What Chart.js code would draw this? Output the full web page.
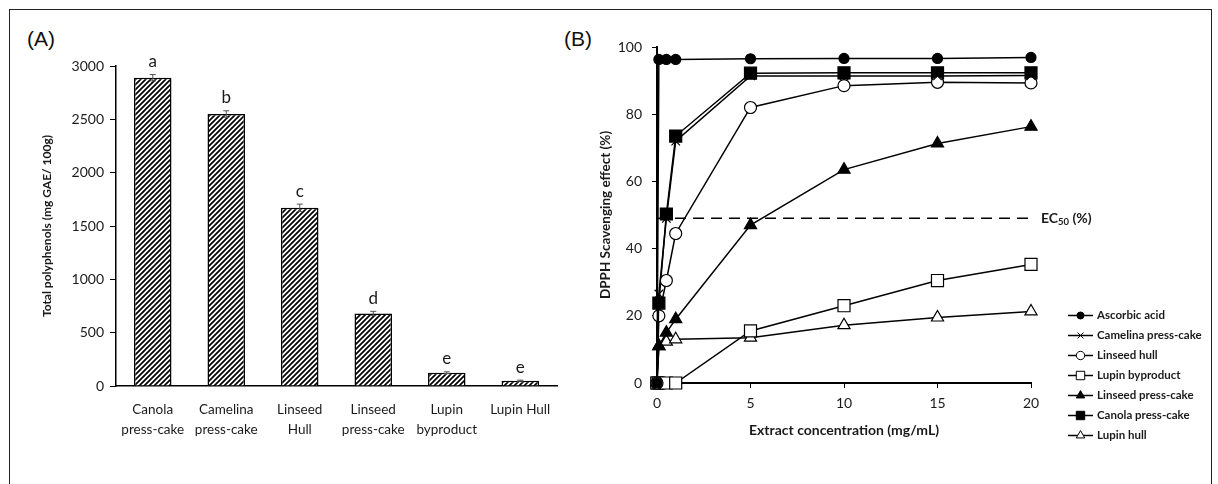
<!DOCTYPE html>
<html>
<head>
<meta charset="utf-8">
<script src="https://cdn.jsdelivr.net/npm/chart.js@4.4.0/dist/chart.umd.min.js"></script>
<style>
  body { margin: 0; background: #fff; width: 1218px; height: 484px; overflow: hidden; position: relative; }
  .frame { position: absolute; left: 9px; top: 9px; width: 1201px; height: 540px; border: 1px solid #222; }
  .panel-tag { position: absolute; font-family: 'Liberation Sans', Arial, sans-serif; font-size: 21px; color: #111; }
  #polyphenols-graph { position: absolute; left: 0; top: 0; }
  #dpph-graph { position: absolute; left: 580px; top: 0; }
</style>
</head>
<body>
<div class="frame"></div>
<div class="panel-tag" style="left:27px; top:27px;">(A)</div>
<div class="panel-tag" style="left:564px; top:27px;">(B)</div>
<canvas id="polyphenols-graph" width="580" height="484"></canvas>
<canvas id="dpph-graph" width="638" height="484"></canvas>
<script>
// ---- (A) total polyphenols ----
const categories = [['Canola', 'press-cake'], ['Camelina', 'press-cake'], ['Linseed', 'Hull'],
                    ['Linseed', 'press-cake'], ['Lupin', 'byproduct'], ['Lupin Hull']];
const polyphenols = [2890, 2550, 1670, 680, 125, 50];
const polyphenolErrors = [30, 30, 35, 20, 8, 5];
const groupLetters = ['a', 'b', 'c', 'd', 'e', 'e'];

// ---- (B) DPPH scavenging ----
const concentrations = [0, 0.1, 0.5, 1, 5, 10, 15, 20];
const ascorbicAcid = [0, 96.3, 96.3, 96.3, 96.5, 96.6, 96.6, 96.9];
const camelinaPressCake = [0, 26.5, 49, 72, 91.4, 91.4, 91.4, 91.5];
const linseedHull = [0, 20, 30.5, 44.5, 82, 88.5, 89.5, 89.3];
const lupinByproduct = [0, 0, 0, 0, 15.5, 23, 30.5, 35.3];
const linseedPressCake = [0, 11, 15, 19, 47, 63.5, 71.3, 76.3];
const canolaPressCake = [0, 23.8, 50.3, 73.5, 92.2, 92.3, 92.3, 92.3];
const lupinHull = [0, 11, 12.3, 13, 13.5, 17.2, 19.5, 21.3];
const ec50Level = 49;

Chart.defaults.font.family = 'Lato, sans-serif';
Chart.defaults.color = '#1a1a1a';

function toPoints(values) {
    return values.map((v, i) => ({ x: concentrations[i], y: v }));
}

function hatch(ctx) {
    let tile = document.createElement('canvas');
    tile.width = 5; tile.height = 5;
    let g = tile.getContext('2d');
    g.fillStyle = '#fff';
    g.fillRect(0, 0, 5, 5);
    g.strokeStyle = '#000';
    g.lineWidth = 1.7;
    g.beginPath();
    g.moveTo(0, 5); g.lineTo(5, 0);
    g.moveTo(-2.5, 2.5); g.lineTo(2.5, -2.5);
    g.moveTo(2.5, 7.5); g.lineTo(7.5, 2.5);
    g.stroke();
    return ctx.createPattern(tile, 'repeat');
}

// error bars + significance letters on panel A
const barDecor = {
    id: 'barDecor',
    afterDatasetsDraw(chart) {
        let ctx = chart.ctx;
        let y = chart.scales.y;
        let meta = chart.getDatasetMeta(0);
        ctx.save();
        meta.data.forEach((bar, i) => {
            let top = y.getPixelForValue(polyphenols[i] + polyphenolErrors[i]);
            let bottom = y.getPixelForValue(polyphenols[i] - polyphenolErrors[i]);
            ctx.strokeStyle = '#555';
            ctx.lineWidth = 1;
            ctx.beginPath();
            ctx.moveTo(bar.x, top); ctx.lineTo(bar.x, bottom);
            ctx.moveTo(bar.x - 3, top); ctx.lineTo(bar.x + 3, top);
            ctx.moveTo(bar.x - 3, bottom); ctx.lineTo(bar.x + 3, bottom);
            ctx.stroke();
            ctx.fillStyle = '#1a1a1a';
            ctx.font = '17px Lato, sans-serif';
            ctx.textAlign = 'center';
            ctx.textBaseline = 'middle';
            ctx.fillText(groupLetters[i], bar.x, top - 13);
        });
        ctx.restore();
    }
};

let polyCtx = document.getElementById('polyphenols-graph').getContext('2d');
new Chart(polyCtx, {
    type: 'bar',
    data: {
        labels: categories,
        datasets: [{
            data: polyphenols,
            backgroundColor: hatch(polyCtx),
            borderColor: '#000',
            borderWidth: 1.5,
            barPercentage: 0.51,
            categoryPercentage: 1
        }]
    },
    options: {
        responsive: false,
        animation: false,
        layout: { padding: { top: 66, right: 23, left: 0, bottom: 0 } },
        plugins: { legend: { display: false }, tooltip: { enabled: false } },
        scales: {
            x: {
                grid: { display: false },
                border: { display: true, color: '#000', width: 1.5 },
                ticks: { font: { size: 13.5, lineHeight: 1.45 }, padding: 6, maxRotation: 0 },
                afterFit: (scale) => { scale.height = 98; }
            },
            y: {
                min: 0,
                max: 3000,
                ticks: { stepSize: 500, font: { size: 14 }, padding: 6, callback: (v) => String(v) },
                grid: { drawOnChartArea: false, drawTicks: true, tickLength: 6, color: '#000' },
                border: { display: true, color: '#000', width: 1.5 },
                title: {
                    display: true,
                    text: 'Total polyphenols (mg GAE/ 100g)',
                    font: { size: 12, weight: 'bold' },
                    padding: { top: 40, bottom: 0 }
                },
                afterFit: (scale) => { scale.width = 116; }
            }
        }
    },
    plugins: [barDecor]
});

// legend + EC50 label for panel B
const dpphDecor = {
    id: 'dpphDecor',
    afterDraw(chart) {
        let ctx = chart.ctx;
        let x = chart.scales.x, y = chart.scales.y;
        ctx.save();
        // EC50 label
        let lx = x.getPixelForValue(20) + 10;
        let ly = y.getPixelForValue(ec50Level);
        ctx.fillStyle = '#1a1a1a';
        ctx.textBaseline = 'middle';
        ctx.textAlign = 'left';
        ctx.font = 'bold 14px Lato, sans-serif';
        ctx.fillText('EC', lx, ly);
        let w = ctx.measureText('EC').width;
        ctx.font = 'bold 9.5px Lato, sans-serif';
        ctx.fillText('50', lx + w, ly + 4);
        let w2 = ctx.measureText('50').width;
        ctx.font = 'bold 14px Lato, sans-serif';
        ctx.fillText(' (%)', lx + w + w2, ly);

        // legend
        let items = chart.data.datasets.filter(d => !d.skipLegend);
        items.forEach((d, i) => {
            let rowY = 315.5 + i * 20;
            ctx.strokeStyle = '#000';
            ctx.lineWidth = 1.5;
            ctx.beginPath();
            ctx.moveTo(488, rowY); ctx.lineTo(513, rowY);
            ctx.stroke();
            ctx.fillStyle = d.pointBackgroundColor;
            ctx.strokeStyle = '#000';
            ctx.lineWidth = 1;
            Chart.helpers.drawPoint(ctx, { pointStyle: d.pointStyle, radius: d.pointRadius * 0.7, rotation: 0, borderWidth: 1 }, 500.5, rowY);
            ctx.fillStyle = '#1a1a1a';
            ctx.font = 'bold 11.5px Lato, sans-serif';
            ctx.textAlign = 'left';
            ctx.textBaseline = 'middle';
            ctx.fillText(d.label, 517, rowY);
        });
        ctx.restore();
    }
};

function series(label, values, pointStyle, radius, fill) {
    return {
        label: label,
        data: toPoints(values),
        borderColor: '#000',
        borderWidth: 1.5,
        pointStyle: pointStyle,
        pointRadius: radius,
        pointBorderWidth: 1.2,
        pointBorderColor: '#000',
        pointBackgroundColor: fill,
        tension: 0,
        clip: false
    };
}

let dpphCtx = document.getElementById('dpph-graph').getContext('2d');
new Chart(dpphCtx, {
    type: 'line',
    data: {
        datasets: [
            series('Ascorbic acid', ascorbicAcid, 'circle', 5, '#000'),
            series('Camelina press-cake', camelinaPressCake, 'crossRot', 6, '#000'),
            series('Linseed hull', linseedHull, 'circle', 6, '#fff'),
            series('Lupin byproduct', lupinByproduct, 'rect', 8.5, '#fff'),
            series('Linseed press-cake', linseedPressCake, 'triangle', 7, '#000'),
            series('Canola press-cake', canolaPressCake, 'rect', 8.5, '#000'),
            series('Lupin hull', lupinHull, 'triangle', 7, '#fff'),
            {
                label: 'EC50',
                skipLegend: true,
                data: [{ x: 0, y: ec50Level }, { x: 20, y: ec50Level }],
                borderColor: '#000',
                borderWidth: 1.5,
                borderDash: [11, 7],
                pointRadius: 0
            }
        ]
    },
    options: {
        responsive: false,
        animation: false,
        layout: { padding: { top: 47, right: 187, left: 0, bottom: 0 } },
        plugins: { legend: { display: false }, tooltip: { enabled: false } },
        scales: {
            x: {
                type: 'linear',
                min: 0,
                max: 20,
                ticks: { stepSize: 5, font: { size: 14 }, padding: 7 },
                grid: { drawOnChartArea: false, drawTicks: true, tickLength: 5, color: '#000' },
                border: { display: true, color: '#000', width: 2 },
                title: {
                    display: true,
                    text: 'Extract concentration (mg/mL)',
                    font: { size: 14, weight: 'bold' },
                    padding: { top: 0, bottom: 45 }
                },
                afterFit: (scale) => { scale.height = 101; }
            },
            y: {
                min: 0,
                max: 100,
                ticks: { stepSize: 20, font: { size: 14 }, padding: 10 },
                grid: { drawOnChartArea: false, drawTicks: true, tickLength: 5, color: '#000' },
                border: { display: true, color: '#000', width: 2 },
                title: {
                    display: true,
                    text: 'DPPH Scavenging effect (%)',
                    font: { size: 13.5, weight: 'bold' },
                    padding: { top: 18, bottom: 0 }
                },
                afterFit: (scale) => { scale.width = 77; }
            }
        }
    },
    plugins: [dpphDecor]
});
</script>
</body>
</html>
